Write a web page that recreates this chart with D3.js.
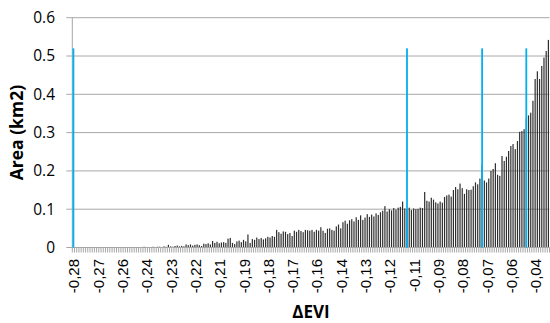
<!DOCTYPE html>
<html>
<head>
<meta charset="utf-8">
<script src="https://cdn.jsdelivr.net/npm/d3@7"></script>
<style>
  html, body { margin: 0; padding: 0; background: #fff; }
  svg { display: block; }
</style>
</head>
<body>
<svg id="chart" width="550" height="323"></svg>
<script>
// ---- data ----
const areaValues = [
  0,0,0,0,0,0,0,0,0,0,
  0,0,0,0,0,0,0,0,0,0,
  0,0,0,0,0,0,0,0,0,0.001,
  0.001,0.001,0.002,0.001,0.001,0.001,0.002,0.001,0.002,0.002,
  0.001,0.003,0.002,0.007,0.003,0.002,0.004,0.005,0.003,0.004,
  0.003,0.008,0.006,0.008,0.005,0.007,0.008,0.006,0.004,0.010,
  0.009,0.011,0.008,0.017,0.012,0.015,0.011,0.013,0.014,0.012,
  0.023,0.025,0.012,0.009,0.016,0.018,0.014,0.020,0.016,0.034,
  0.012,0.022,0.020,0.026,0.022,0.025,0.021,0.024,0.028,0.026,
  0.030,0.028,0.046,0.040,0.036,0.042,0.041,0.035,0.038,0.030,
  0.044,0.041,0.046,0.043,0.040,0.046,0.045,0.044,0.046,0.041,
  0.046,0.044,0.053,0.044,0.038,0.049,0.050,0.046,0.044,0.055,
  0.060,0.050,0.066,0.070,0.062,0.071,0.074,0.068,0.079,0.072,
  0.084,0.072,0.078,0.087,0.080,0.086,0.081,0.089,0.085,0.092,
  0.096,0.108,0.094,0.100,0.097,0.103,0.099,0.104,0.106,0.120,
  0.102,0.100,0.104,0.098,0.102,0.100,0.101,0.104,0.103,0.145,
  0.122,0.120,0.130,0.125,0.118,0.115,0.120,0.117,0.132,0.136,
  0.138,0.133,0.150,0.158,0.152,0.167,0.155,0.140,0.152,0.150,
  0.151,0.160,0.170,0.165,0.180,0.215,0.175,0.170,0.180,0.200,
  0.205,0.220,0.190,
  0.187,0.239,0.226,0.237,0.252,0.265,0.270,0.257,0.278,0.302,
  0.304,0.309,0.337,0.345,0.352,0.383,0.440,0.460,0.440,0.474,
  0.496,0.513,0.542
];
const categories = areaValues.map((d, i) => i);
const xTickLabels = ["-0,28","-0,27","-0,26","-0,24","-0,23","-0,22","-0,21","-0,19","-0,18","-0,17",
                     "-0,16","-0,14","-0,13","-0,12","-0,11","-0,09","-0,08","-0,07","-0,06","-0,04"];
const labelEvery = 11;
const markerCategories = [0, 151, 185, 205];
const markerValues = [0.52, 0.52, 0.52, 0.52];
const yTicks = [0, 0.1, 0.2, 0.3, 0.4, 0.5, 0.6];
const yTickLabels = ["0", "0.1", "0.2", "0.3", "0.4", "0.5", "0.6"];

// ---- layout ----
const pL = 72.3, pR = 549.5, pT = 17.7, pB = 247.5;
const svg = d3.select("#chart");

const x = d3.scaleBand().domain(categories).range([pL, pR]).padding(0);
const y = d3.scaleLinear().domain([0, 0.6]).range([pB, pT]);

// gridlines (with small outward ticks)
svg.append("g").selectAll("line").data(yTicks).join("line")
  .attr("x1", pL - 6).attr("x2", pR)
  .attr("y1", d => y(d)).attr("y2", d => y(d))
  .attr("stroke", "#a8a8a8").attr("stroke-width", 1);

// y labels
svg.append("g").selectAll("text").data(yTicks).join("text")
  .attr("x", 55).attr("y", d => y(d)).attr("dy", "0.35em")
  .attr("text-anchor", "end")
  .attr("font-family", "'Open Sans', sans-serif").attr("font-size", 15.5).attr("fill", "#000")
  .text((d, i) => yTickLabels[i]);

// vertical axis line
svg.append("line").attr("x1", pL).attr("x2", pL).attr("y1", pT).attr("y2", pB)
  .attr("stroke", "#a6a6a6").attr("stroke-width", 1);

// category tick marks
svg.append("g").selectAll("line").data(d3.range(categories.length + 1)).join("line")
  .attr("x1", d => pL + d * x.step()).attr("x2", d => pL + d * x.step())
  .attr("y1", pB).attr("y2", pB + 5)
  .attr("stroke", "#a6a6a6").attr("stroke-width", 1);

// bars
const barW = 1.2;
svg.append("g").selectAll("rect").data(areaValues).join("rect")
  .attr("x", (d, i) => x(categories[i]) + x.bandwidth() / 2 - barW / 2)
  .attr("width", barW)
  .attr("y", d => y(d))
  .attr("height", d => pB - y(d))
  .attr("fill", "#2e2e2e");

// horizontal axis line
svg.append("line").attr("x1", pL).attr("x2", pR).attr("y1", pB).attr("y2", pB)
  .attr("stroke", "#a6a6a6").attr("stroke-width", 1);

// blue markers
const mW = 1.8;
svg.append("g").selectAll("rect").data(markerCategories).join("rect")
  .attr("x", d => x(d) + x.bandwidth() / 2 - mW / 2)
  .attr("width", mW)
  .attr("y", (d, i) => y(markerValues[i]))
  .attr("height", (d, i) => pB - y(markerValues[i]))
  .attr("fill", "#00b0f0");

// x labels
const labelIdx = xTickLabels.map((t, k) => k * labelEvery);
svg.append("g").selectAll("text").data(labelIdx).join("text")
  .attr("transform", d => `translate(${x(d) + x.bandwidth() / 2 + 0.8},259) rotate(-90)`)
  .attr("dy", "0.35em")
  .attr("text-anchor", "end")
  .attr("font-family", "'Liberation Sans', Arial, sans-serif").attr("font-size", 15).attr("fill", "#000")
  .text((d, k) => xTickLabels[k]);

// axis titles
svg.append("text")
  .attr("transform", `translate(17,${(pT + pB) / 2}) rotate(-90)`)
  .attr("dy", "0.35em")
  .attr("text-anchor", "middle")
  .attr("font-family", "'Open Sans', sans-serif").attr("font-size", 17.5).attr("font-weight", "bold")
  .text("Area (km2)");

svg.append("text")
  .attr("x", (pL + pR) / 2).attr("y", 318)
  .attr("text-anchor", "middle")
  .attr("font-family", "'Open Sans', sans-serif").attr("font-size", 17).attr("font-weight", "bold")
  .text("ΔEVI");
</script>
</body>
</html>
